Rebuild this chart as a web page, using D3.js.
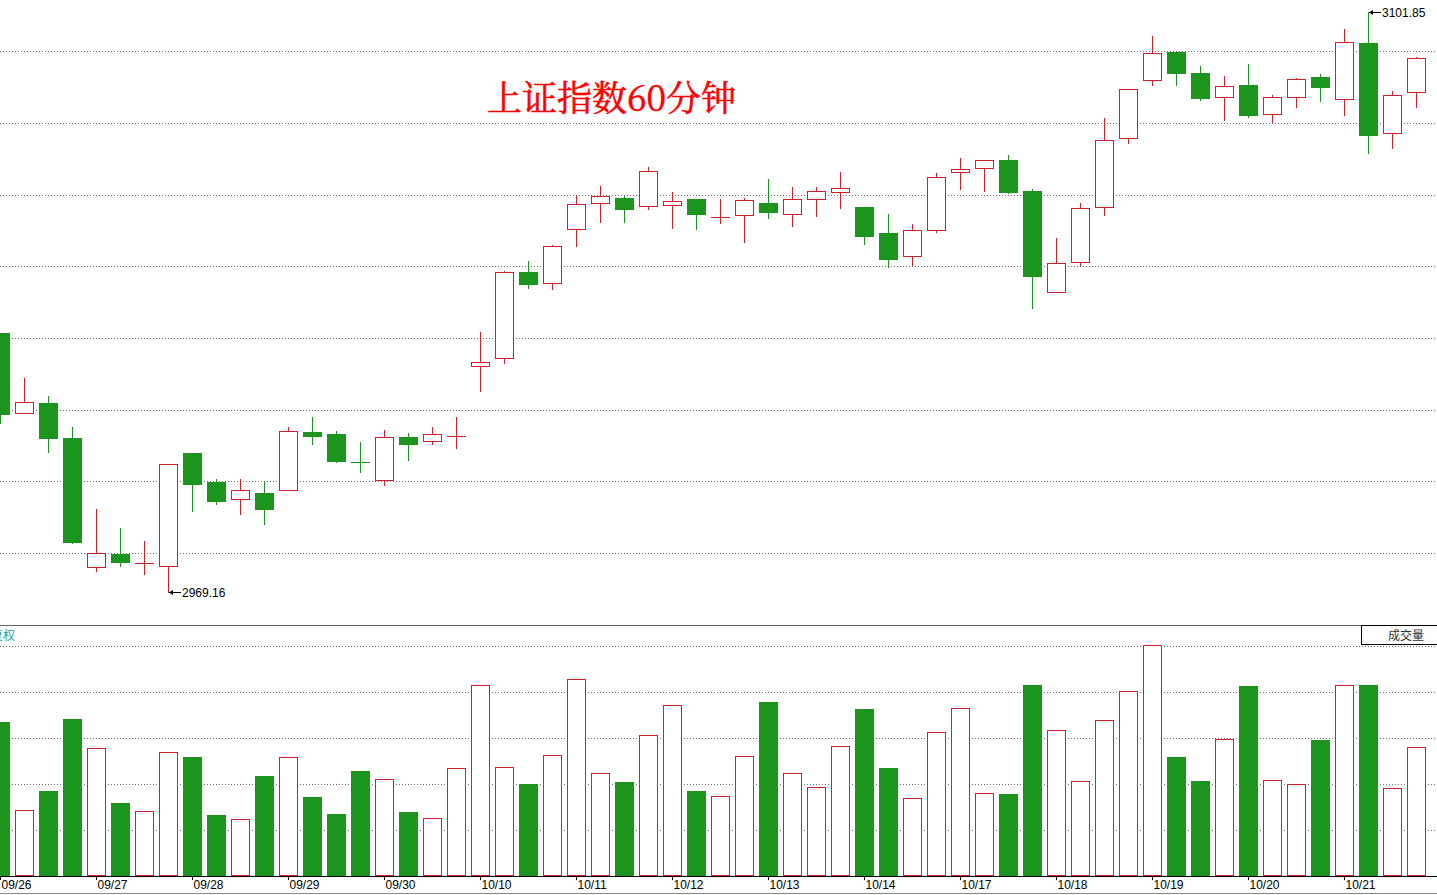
<!DOCTYPE html>
<html>
<head>
<meta charset="utf-8">
<title>上证指数60分钟</title>
<script src="https://cdn.jsdelivr.net/npm/d3@7/dist/d3.min.js"></script>
<style>
  html, body { margin: 0; padding: 0; background: #fff; overflow: hidden; }
  #page { width: 1437px; height: 895px; }
</style>
</head>
<body>
<div id="page"></div>
<script>
  // 60-minute bars, 4 per trading day
  var days = [ "09/26", "09/27", "09/28", "09/29", "09/30", "10/10", "10/11", "10/12",
    "10/13", "10/14", "10/17", "10/18", "10/19", "10/20", "10/21" ];

  var opens = [
    3028.28, 3009.97, 3012.33, 3004.32, 2974.88, 2977.79, 2975.64, 2975.11, 3000.89, 2994.26,
    2990.30, 2991.74, 2992.36, 3005.70, 3005.24, 2998.78, 2994.65, 3004.55, 3003.57, 3004.71,
    3020.73, 3022.56, 3042.23, 3039.72, 3052.07, 3058.02, 3059.23, 3057.33, 3057.56, 3059.00,
    3054.81, 3055.27, 3058.09, 3055.50, 3058.93, 3060.53, 3057.17, 3051.22, 3045.89, 3051.84,
    3065.11, 3066.02, 3067.92, 3060.83, 3037.66, 3044.52, 3057.10, 3072.89, 3086.16, 3092.63,
    3087.83, 3082.27, 3085.08, 3078.38, 3082.27, 3086.91, 3081.81, 3094.69, 3074.03, 3083.41 ];

  var highs = [
    3028.28, 3017.98, 3013.93, 3006.84, 2988.08, 2983.73, 2980.76, 2998.31, 3000.89, 2994.94,
    2994.94, 2994.26, 3006.84, 3009.13, 3005.93, 3003.41, 3006.15, 3005.47, 3006.84, 3009.13,
    3028.57, 3042.46, 3044.82, 3048.48, 3059.69, 3061.98, 3059.69, 3066.32, 3060.60, 3059.00,
    3059.00, 3059.16, 3063.58, 3061.75, 3061.75, 3065.18, 3057.17, 3055.57, 3053.28, 3064.95,
    3068.38, 3067.85, 3069.07, 3061.29, 3050.08, 3058.09, 3077.53, 3084.10, 3096.29, 3092.70,
    3089.43, 3087.14, 3089.89, 3082.79, 3086.61, 3087.60, 3097.89, 3101.85, 3083.71, 3091.49 ];

  var lows = [
    3007.82, 3009.97, 3001.19, 2980.30, 2973.97, 2975.11, 2973.28, 2969.16, 2987.69, 2989.29,
    2987.01, 2984.72, 2992.36, 3003.02, 2998.90, 2996.61, 2993.64, 2999.29, 3003.02, 3002.10,
    3015.14, 3021.55, 3038.71, 3038.48, 3048.32, 3053.81, 3053.81, 3056.78, 3052.44, 3052.21,
    3053.58, 3049.23, 3054.72, 3052.89, 3055.18, 3057.01, 3048.77, 3043.51, 3043.97, 3051.52,
    3061.36, 3060.83, 3060.44, 3034.13, 3037.66, 3043.97, 3055.41, 3071.88, 3085.15, 3085.15,
    3081.72, 3077.14, 3077.83, 3076.69, 3080.12, 3081.49, 3078.29, 3069.59, 3070.74, 3080.12 ];

  var closes = [
    3009.88, 3012.49, 3004.39, 2980.60, 2977.95, 2976.02, 2975.66, 2998.31, 2993.87, 2989.98,
    2992.36, 2988.15, 3005.86, 3004.85, 2999.13, 2998.76, 3004.48, 3003.02, 3005.17, 3004.71,
    3021.64, 3042.23, 3039.62, 3048.18, 3057.79, 3059.62, 3056.78, 3065.34, 3058.47, 3055.64,
    3054.81, 3058.70, 3056.10, 3058.93, 3060.76, 3061.45, 3050.60, 3045.34, 3051.84, 3063.97,
    3065.80, 3067.85, 3060.60, 3041.45, 3044.29, 3056.87, 3072.43, 3084.10, 3092.33, 3087.90,
    3082.18, 3084.78, 3078.29, 3082.27, 3086.39, 3084.69, 3094.85, 3073.71, 3082.73, 3091.19 ];

  // volume, relative units (top grid line = 100)
  var volumes = [
    67.0, 28.7, 37.0, 68.3, 55.6, 31.8, 28.2, 53.8, 51.8, 26.6,
    24.7, 43.6, 51.7, 34.4, 27.1, 45.7, 42.1, 27.9, 25.2, 46.9,
    82.9, 47.3, 40.1, 52.5, 85.5, 44.7, 40.9, 61.2, 74.3, 37.0,
    34.7, 52.1, 75.7, 44.7, 38.6, 56.4, 72.6, 47.0, 33.9, 62.5,
    72.9, 36.0, 35.7, 83.1, 63.4, 41.3, 67.9, 80.3, 100.3, 51.8,
    41.4, 59.5, 82.6, 41.7, 39.9, 59.2, 82.9, 83.1, 38.2, 56.0 ];

  var gridPrices = [ 2977.95, 2994.42, 3010.73, 3027.13, 3043.60, 3059.98, 3076.32, 3092.79 ];
  var volTicks = [ 20, 40, 60, 80, 100 ];
  var priceLow = 2969.16, priceHigh = 3101.85;

(function() {

  "use strict";

  var W = 1437, H = 895,
    UP = "#d0202c",
    DOWN = "#1b951d",
    GRID = "#707070",
    FONT = "'Liberation Sans', Arial, sans-serif";

  function snap( v ) {
    return Math.round( v ) + 0.5;
  }

  var bars = opens.map(function( o, i ) {
    return {
      i: i,
      o: o,
      h: highs[i],
      l: lows[i],
      c: closes[i],
      v: volumes[i],
      up: closes[i] >= o
    };
  });

  var svg = d3.select( "#page" ).append( "svg" )
    .attr( "width", W )
    .attr( "height", H )
    .style( "display", "block" );

  var x = d3.scaleLinear()
    .domain( [ 0, bars.length - 1 ] )
    .range( [ 0, 24 * ( bars.length - 1 ) ] );

  var y = d3.scaleLinear()
    .domain( [ priceLow, priceHigh ] )
    .range( [ 591.7, 11.7 ] );

  var yv = d3.scaleLinear()
    .domain( [ 0, 100 ] )
    .range( [ 876.3, 646 ] );

  /* * * * * * * * * * * * * * * * * * * */

  // dotted grid, price panel and volume panel
  svg.append( "g" )
    .selectAll( "line" )
    .data( gridPrices )
    .join( "line" )
    .attr( "x1", 0 )
    .attr( "x2", W )
    .attr( "y1", function( p ) { return snap( y( p ) ); } )
    .attr( "y2", function( p ) { return snap( y( p ) ); } )
    .attr( "stroke", GRID )
    .attr( "stroke-dasharray", "1,2" );

  svg.append( "g" )
    .selectAll( "line" )
    .data( volTicks )
    .join( "line" )
    .attr( "x1", 0 )
    .attr( "x2", W )
    .attr( "y1", function( v ) { return snap( yv( v ) ); } )
    .attr( "y2", function( v ) { return snap( yv( v ) ); } )
    .attr( "stroke", GRID )
    .attr( "stroke-dasharray", "1,2" );

  // panel separators
  svg.append( "line" )
    .attr( "x1", 0 ).attr( "x2", W )
    .attr( "y1", 625.5 ).attr( "y2", 625.5 )
    .attr( "stroke", "#666" );

  svg.append( "line" )
    .attr( "x1", 0 ).attr( "x2", W )
    .attr( "y1", 893.5 ).attr( "y2", 893.5 )
    .attr( "stroke", "#888" );

  /* * * * * * * * * * * * * * * * * * * */

  // candles
  var candle = svg.append( "g" )
    .selectAll( "g" )
    .data( bars )
    .join( "g" );

  candle.append( "line" )
    .attr( "x1", function( d ) { return snap( x( d.i ) ); } )
    .attr( "x2", function( d ) { return snap( x( d.i ) ); } )
    .attr( "y1", function( d ) { return Math.round( y( d.h ) ); } )
    .attr( "y2", function( d ) { return Math.round( y( d.l ) ) + 1; } )
    .attr( "stroke", function( d ) { return d.up ? UP : DOWN; } );

  candle.each(function( d ) {
    var g = d3.select( this ),
      cx = Math.round( x( d.i ) ),
      top = Math.round( y( Math.max( d.o, d.c ) ) ),
      bot = Math.round( y( Math.min( d.o, d.c ) ) );

    if ( bot - top < 2 ) {
      g.append( "line" )
        .attr( "x1", cx - 9 )
        .attr( "x2", cx + 10 )
        .attr( "y1", top + 0.5 )
        .attr( "y2", top + 0.5 )
        .attr( "stroke", d.up ? UP : DOWN );
    } else if ( d.up ) {
      g.append( "rect" )
        .attr( "x", cx - 8.5 )
        .attr( "y", top + 0.5 )
        .attr( "width", 18 )
        .attr( "height", bot - top )
        .attr( "fill", "#fff" )
        .attr( "stroke", UP );
    } else {
      g.append( "rect" )
        .attr( "x", cx - 9 )
        .attr( "y", top )
        .attr( "width", 19 )
        .attr( "height", bot - top + 1 )
        .attr( "fill", DOWN );
    }
  });

  /* * * * * * * * * * * * * * * * * * * */

  // volume bars
  svg.append( "g" )
    .selectAll( "rect" )
    .data( bars )
    .join( "rect" )
    .attr( "x", function( d ) { return Math.round( x( d.i ) ) - ( d.up ? 8.5 : 9 ); } )
    .attr( "y", function( d ) { return Math.round( yv( d.v ) ) + ( d.up ? 0.5 : 0 ); } )
    .attr( "width", function( d ) { return d.up ? 18 : 19; } )
    .attr( "height", function( d ) {
      return 876 - Math.round( yv( d.v ) ) - ( d.up ? 1 : 0 );
    })
    .attr( "fill", function( d ) { return d.up ? "#fff" : DOWN; } )
    .attr( "stroke", function( d ) { return d.up ? UP : "none"; } );

  /* * * * * * * * * * * * * * * * * * * */

  // date axis
  svg.append( "line" )
    .attr( "x1", 0 ).attr( "x2", W )
    .attr( "y1", 876.5 ).attr( "y2", 876.5 )
    .attr( "stroke", "#000" );

  var xAxis = d3.axisBottom( x )
    .tickValues( days.map(function( d, k ) { return k * 4; }) )
    .tickFormat(function( v ) { return days[ v / 4 ]; })
    .tickSize( 4 )
    .tickSizeOuter( 0 );

  var ax = svg.append( "g" )
    .attr( "transform", "translate(0,876)" )
    .call( xAxis );

  ax.select( ".domain" ).remove();
  ax.selectAll( ".tick line" ).attr( "stroke", "#000" );
  ax.selectAll( ".tick text" )
    .attr( "text-anchor", "start" )
    .attr( "x", 1 )
    .attr( "y", 12.5 )
    .attr( "dy", null )
    .attr( "fill", "#000" )
    .style( "font-family", FONT )
    .style( "font-size", "12px" );

  /* * * * * * * * * * * * * * * * * * * */

  // high / low markers
  var iHigh = d3.maxIndex( highs ),
    iLow = d3.minIndex( lows );

  [ { i: iHigh, p: highs[ iHigh ] }, { i: iLow, p: lows[ iLow ] } ].forEach(function( m ) {
    var mx = Math.round( x( m.i ) ) + 1,
      my = snap( y( m.p ) );

    svg.append( "line" )
      .attr( "x1", mx ).attr( "x2", mx + 12 )
      .attr( "y1", my ).attr( "y2", my )
      .attr( "stroke", "#000" );

    svg.append( "path" )
      .attr( "d", "M" + mx + "," + my + "l4,-2.5v5z" )
      .attr( "fill", "#000" );

    svg.append( "text" )
      .attr( "x", mx + 13 )
      .attr( "y", my + 4 )
      .attr( "fill", "#000" )
      .style( "font-family", FONT )
      .style( "font-size", "12px" )
      .text( m.p.toFixed( 2 ) );
  });

  /* * * * * * * * * * * * * * * * * * * */

  // title and panel captions
  svg.append( "text" )
    .attr( "x", 487 )
    .attr( "y", 111 )
    .attr( "fill", "#ff0000" )
    .attr( "stroke", "#ff0000" )
    .attr( "stroke-width", 0.6 )
    .style( "font-family", "'Noto Serif CJK SC', 'Noto Sans CJK SC', serif" )
    .style( "font-size", "35px" )
    .text( "上证指数60分钟" );

  // caption is clipped at the left edge, as in the source screen
  svg.append( "text" )
    .attr( "x", 15 )
    .attr( "y", 640 )
    .attr( "text-anchor", "end" )
    .attr( "fill", "#2a9db0" )
    .style( "font-family", "'Noto Sans CJK SC', sans-serif" )
    .style( "font-size", "12px" )
    .text( "复权" );

  svg.append( "rect" )
    .attr( "x", 1361.5 )
    .attr( "y", 625.5 )
    .attr( "width", 90 )
    .attr( "height", 19 )
    .attr( "fill", "#fff" )
    .attr( "stroke", "#000" );

  svg.append( "text" )
    .attr( "x", 1388 )
    .attr( "y", 640 )
    .attr( "fill", "#333" )
    .style( "font-family", "'Noto Sans CJK SC', sans-serif" )
    .style( "font-size", "12px" )
    .text( "成交量" );

})();
</script>
</body>
</html>
